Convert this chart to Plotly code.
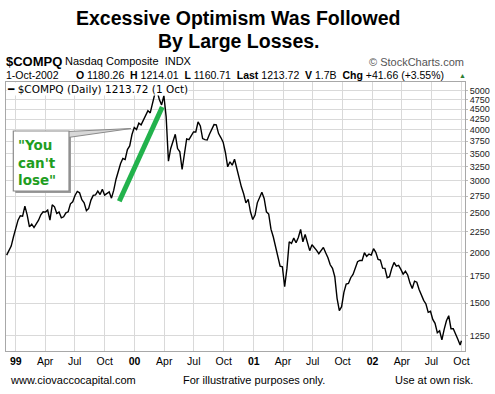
import pandas as pd
import plotly.graph_objects as go

# ---------------- data ----------------
week_dates = list(pd.date_range("1998-12-04", "2002-09-27", freq="W-FRI").strftime("%Y-%m-%d"))
week_close = [
    1970, 2020, 2073, 2185, 2277, 2400, 2460, 2455, 2598, 2474,
    2311, 2346, 2302, 2346, 2400, 2474, 2516, 2512, 2540, 2400,
    2617, 2588, 2493, 2512, 2432, 2446, 2502, 2516, 2632, 2662,
    2760, 2823, 2802, 2693, 2647, 2531, 2564, 2688, 2760, 2770,
    2828, 2775, 2860, 2765, 2786, 2817, 2718, 2844, 3026, 3160,
    3306, 3401, 3382, 3578, 3653,
    3895, 4052, 4006, 4153, 4113, 4224, 4336, 4460, 4402, 4623,
    4900, 4990, 4750, 4605, 4850,
    4304, 3350, 3600, 3772, 3900, 3599, 3532, 3196, 3532, 3800,
    3786, 3858, 3953, 3953, 4184, 4090, 3808, 3786, 3779, 3902,
    4020, 4121, 4113, 3917, 3830, 3730, 3519, 3245, 3338, 3275,
    3388, 3196, 3072, 2898, 2786, 2647, 2698, 2516, 2409, 2470,
    2647, 2744, 2812, 2713, 2516, 2484, 2281, 2185, 2065, 1922,
    1851, 1844, 1647, 1827, 2124, 2104, 2168, 2112, 2177, 2277,
    2124, 2213, 2108, 2020, 2089, 2061, 2023, 1985, 2027, 2057,
    1996, 1941, 1865, 1827, 1743, 1542, 1439, 1471, 1595, 1672,
    1678, 1733, 1766, 1844, 1898, 1911, 1911, 1996, 1956, 1981,
    1970, 2042, 2000, 1922, 1915, 1830, 1827, 1733, 1743, 1827,
    1890, 1851, 1858, 1817, 1769, 1797, 1760, 1681, 1631, 1700,
    1690, 1622, 1563, 1525, 1494, 1425, 1433, 1369, 1339, 1270,
    1284, 1219, 1294, 1359, 1398, 1299, 1299, 1254, 1224, 1185,
]
last_date = "2002-10-01"
last_close = 1213.72
dates = week_dates + [last_date]
closes = week_close + [last_close]

trend_dates = ["1999-11-15", "2000-03-26"]
trend_values = [2672, 4553]

y_ticks = [1250, 1500, 1750, 2000, 2250, 2500, 2750, 3000, 3250, 3500,
           3750, 4000, 4250, 4500, 4750, 5000]
x_tick_dates = ["1999-01-01", "1999-04-01", "1999-07-01", "1999-10-01",
                "2000-01-01", "2000-04-01", "2000-07-01", "2000-10-01",
                "2001-01-01", "2001-04-01", "2001-07-01", "2001-10-01",
                "2002-01-01", "2002-04-01", "2002-07-01", "2002-10-01"]
x_tick_text = ["<b>99</b>", "Apr", "Jul", "Oct", "<b>00</b>", "Apr", "Jul", "Oct",
               "<b>01</b>", "Apr", "Jul", "Oct", "<b>02</b>", "Apr", "Jul", "Oct"]

# ---------------- layout helpers ----------------
W, H = 495, 394
ML, MR, MT, MB = 6, 30, 82, 43
PW, PH = W - ML - MR, H - MT - MB


def px(X):
    return (X - ML) / PW


def py(Y):
    return (H - MB - Y) / PH


FONT = "Liberation Sans, Arial, sans-serif"

fig = go.Figure()
fig.add_trace(go.Scatter(x=dates, y=closes, mode="lines",
                         line=dict(color="black", width=1.4), showlegend=False,
                         hoverinfo="skip"))
fig.add_trace(go.Scatter(x=trend_dates, y=trend_values, mode="lines",
                         line=dict(color="#22b24c", width=5), showlegend=False,
                         hoverinfo="skip"))

ann = []


def text(X, Y, s, size, color="black", xanchor="left", bold=False, family=FONT, **kw):
    if bold:
        s = "<b>" + s + "</b>"
    ann.append(dict(x=px(X), y=py(Y), xref="paper", yref="paper", text=s,
                    showarrow=False, xanchor=xanchor, yanchor="middle",
                    font=dict(size=size, color=color, family=family), **kw))


text(238, 18, "Excessive Optimism Was Followed", 19.5, bold=True, xanchor="center")
text(238, 41, "By Large Losses.", 19.5, bold=True, xanchor="center")
text(4, 61, "$COMPQ", 13, bold=True)
text(63, 61, "Nasdaq Composite  INDX", 11)
text(466, 62, "© StockCharts.com", 11, color="#555555", xanchor="right")
text(4, 75, "1-Oct-2002", 10.5)
text(74, 75, "<b>O</b> 1180.26  <b>H</b> 1214.01  <b>L</b> 1160.71  <b>Last</b> 1213.72  "
     "<b>V</b> 1.7B  <b>Chg</b> +41.66 (+3.55%)", 10.5)
text(457, 75, "▲", 7, color="#2e7d32")
text(6, 88.5, "<b>━</b> $COMPQ (Daily) 1213.72 (1 Oct)", 10.5,
     family="DejaVu Sans, sans-serif", bgcolor="white", borderpad=0)
text(8, 380, "www.ciovaccocapital.com", 11)
text(254, 380, "For illustrative purposes only.", 11, xanchor="center")
text(475, 380, "Use at own risk.", 11, xanchor="right")
text(16, 162, "\"You<br>can't<br>lose\"", 13.5, color="#1f9e1f", bold=True,
     family="DejaVu Sans, sans-serif", align="left")

shapes = [
    dict(type="rect", xref="paper", yref="paper", x0=px(15.3), x1=px(71), y0=py(193), y1=py(133),
         fillcolor="#9a9a9a", line=dict(width=0), layer="above"),
    dict(type="path", xref="paper", yref="paper",
         path=f"M {px(68)} {py(131.5)} L {px(131)} {py(128.5)} L {px(68)} {py(137.5)} Z",
         fillcolor="#d8d8d8", line=dict(color="#8a8a8a", width=1), layer="above"),
    dict(type="rect", xref="paper", yref="paper", x0=px(13.3), x1=px(69), y0=py(191), y1=py(131),
         fillcolor="white", line=dict(color="#8a8a8a", width=1.2), layer="above"),
]

fig.update_layout(
    width=W, height=H,
    margin=dict(l=ML, r=MR, t=MT, b=MB),
    paper_bgcolor="white", plot_bgcolor="white",
    font=dict(family=FONT, color="black"),
    annotations=ann, shapes=shapes,
    xaxis=dict(type="date", range=["1998-12-02", "2002-10-12"],
               tickvals=x_tick_dates, ticktext=x_tick_text,
               showgrid=True, gridcolor="#d9d9d9", gridwidth=1,
               showline=True, linecolor="#a8a8a8", linewidth=1, mirror=True,
               ticks="", tickfont=dict(size=10.5, family=FONT, color="black"),
               zeroline=False, fixedrange=True),
    yaxis=dict(type="log", side="right", range=[3.0588, 3.7196],
               tickvals=y_ticks, ticktext=[str(v) for v in y_ticks],
               showgrid=True, gridcolor="#d9d9d9", gridwidth=1,
               showline=True, linecolor="#a8a8a8", linewidth=1, mirror=True,
               ticks="outside", ticklen=2, tickcolor="#bbbbbb",
               tickfont=dict(size=9, family=FONT, color="#222222"),
               automargin=False, zeroline=False, fixedrange=True),
)

fig.write_html("out.html", config={"displayModeBar": False},
               post_script="document.body.style.margin='0';")
